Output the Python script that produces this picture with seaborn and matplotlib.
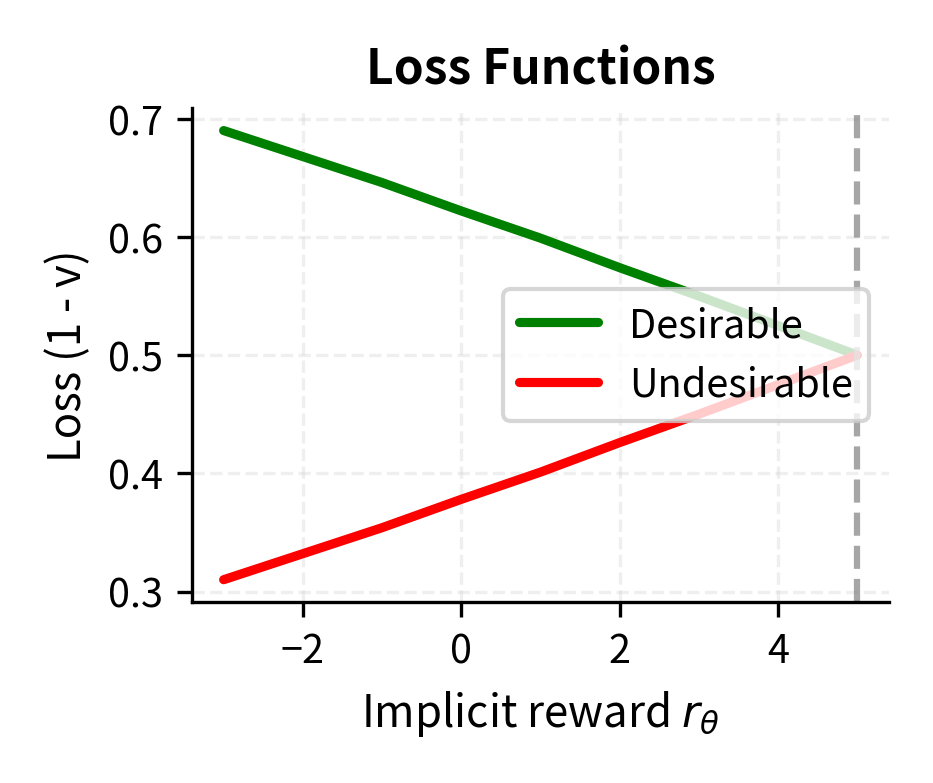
import matplotlib
matplotlib.use("Agg")
import matplotlib.pyplot as plt
import seaborn as sns
import pandas as pd

reward = [-3, -2, -1, 0, 1, 2, 3, 4, 5]
desirable = [0.690, 0.668, 0.646, 0.622, 0.599, 0.574, 0.550, 0.525, 0.500]
undesirable = [0.310, 0.332, 0.354, 0.378, 0.401, 0.426, 0.450, 0.475, 0.500]
ref_point = 5

sns.set_style("ticks")
plt.rcParams['font.family'] = ['Noto Sans CJK JP', 'DejaVu Sans']
plt.rcParams['text.color'] = 'black'
plt.rcParams['axes.labelcolor'] = 'black'
plt.rcParams['xtick.color'] = 'black'
plt.rcParams['ytick.color'] = 'black'
plt.rcParams['axes.edgecolor'] = 'black'

df = pd.DataFrame({"r": reward * 2,
                   "loss": desirable + undesirable,
                   "kind": ["Desirable"] * len(reward) + ["Undesirable"] * len(reward)})

fig, ax = plt.subplots(figsize=(3.113, 2.613), dpi=300)
sns.lineplot(data=df, x="r", y="loss", hue="kind", palette=["green", "red"], linewidth=2.2, ax=ax)
ax.axvline(ref_point, color="gray", linestyle="--", alpha=0.7, linewidth=1.5)
ax.grid(True, linestyle="--", alpha=0.3)
sns.despine(ax=ax)
ax.set_title("Loss Functions", fontweight="bold", fontsize=11.5)
ax.set_xlabel(r"Implicit reward $r_\theta$", fontsize=10.5)
ax.set_ylabel("Loss (1 - v)", fontsize=10.5)
ax.set_yticks([0.3, 0.4, 0.5, 0.6, 0.7])
ax.set_xticks([-2, 0, 2, 4])
ax.tick_params(labelsize=9.5)
ax.legend(title=None, loc="center right", fontsize=9.5)
fig.tight_layout()
fig.savefig("out.png", dpi=300)
